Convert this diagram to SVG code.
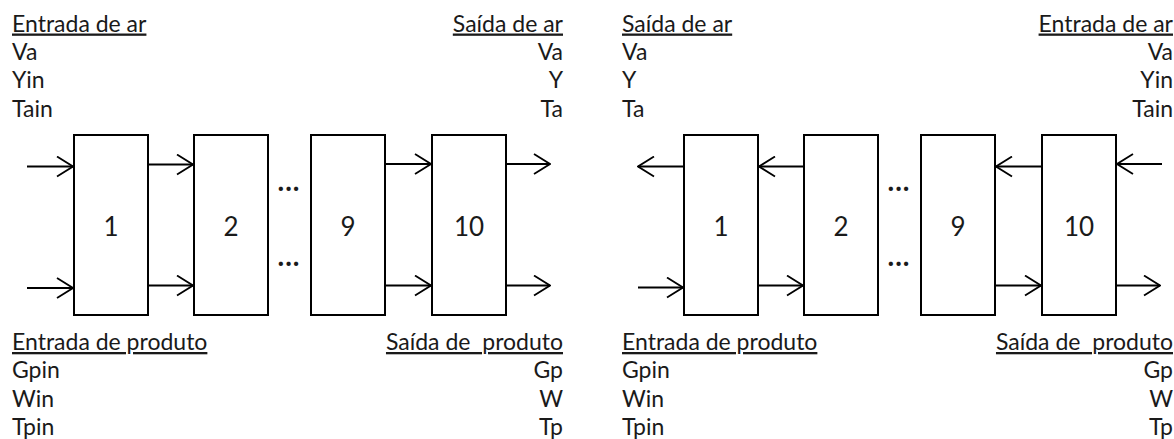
<svg xmlns="http://www.w3.org/2000/svg" width="1174" height="439" viewBox="0 0 1174 439">
<style>
text{font-family:Lato,"Open Sans","DejaVu Sans",sans-serif;font-size:23px;fill:#1a1a1a;white-space:pre}
.h{text-decoration:underline}
.r{text-anchor:end}
.n{text-anchor:middle;font-size:26px}
.d{text-anchor:middle;font-size:28px;letter-spacing:1px;font-weight:bold}
rect{fill:#fff;stroke:#000;stroke-width:2}
.c path{fill:none;stroke:#000;stroke-width:1.8;marker-end:url(#arr)}
</style>
<defs>
<marker id="arr" markerUnits="userSpaceOnUse" viewBox="0 0 18 22" refX="17" refY="11" markerWidth="18" markerHeight="22" orient="auto">
<path d="M1,1 L17,11 L1,21" fill="none" stroke="#000" stroke-width="1.8"/>
</marker>
</defs>
<rect width="1174" height="439" style="fill:#fff;stroke:none"/>

<g id="left-labels">
<text x="12" y="31.5" class="h">Entrada de ar</text>
<text x="12" y="59.5">Va</text>
<text x="12" y="88">Yin</text>
<text x="12" y="116.5">Tain</text>
<text x="563" y="31.5" class="h r">Saída de ar</text>
<text x="563" y="59.5" class="r">Va</text>
<text x="563" y="88" class="r">Y</text>
<text x="563" y="116.5" class="r">Ta</text>
<text x="12" y="350" class="h">Entrada de produto</text>
<text x="12" y="378">Gpin</text>
<text x="12" y="406.5">Win</text>
<text x="12" y="435">Tpin</text>
<text x="563" y="350" class="h r">Saída de  produto</text>
<text x="563" y="378" class="r">Gp</text>
<text x="563" y="406.5" class="r">W</text>
<text x="563" y="435" class="r">Tp</text>
<text x="289" y="191" class="d">...</text>
<text x="289" y="266" class="d">...</text>
</g>

<g id="right-labels">
<text x="622" y="31.5" class="h">Saída de ar</text>
<text x="622" y="59.5">Va</text>
<text x="622" y="88">Y</text>
<text x="622" y="116.5">Ta</text>
<text x="1173" y="31.5" class="h r">Entrada de ar</text>
<text x="1173" y="59.5" class="r">Va</text>
<text x="1173" y="88" class="r">Yin</text>
<text x="1173" y="116.5" class="r">Tain</text>
<text x="622" y="350" class="h">Entrada de produto</text>
<text x="622" y="378">Gpin</text>
<text x="622" y="406.5">Win</text>
<text x="622" y="435">Tpin</text>
<text x="1173" y="350" class="h r">Saída de  produto</text>
<text x="1173" y="378" class="r">Gp</text>
<text x="1173" y="406.5" class="r">W</text>
<text x="1173" y="435" class="r">Tp</text>
<text x="899" y="191" class="d">...</text>
<text x="899" y="266" class="d">...</text>
</g>

<g id="L1"><rect x="74" y="135" width="74" height="180"/><text x="111" y="236" class="n">1</text></g>
<g id="L2"><rect x="194" y="135" width="74" height="180"/><text x="231" y="236" class="n">2</text></g>
<g id="L9"><rect x="311" y="135" width="74" height="180"/><text x="348" y="236" class="n">9</text></g>
<g id="L10"><rect x="432" y="135" width="74" height="180"/><text x="469" y="236" class="n">10</text></g>

<g id="R1"><rect x="684" y="135" width="74" height="180"/><text x="721" y="236" class="n">1</text></g>
<g id="R2"><rect x="804" y="135" width="74" height="180"/><text x="841" y="236" class="n">2</text></g>
<g id="R9"><rect x="921" y="135" width="74" height="180"/><text x="958" y="236" class="n">9</text></g>
<g id="R10"><rect x="1042" y="135" width="74" height="180"/><text x="1079" y="236" class="n">10</text></g>

<g id="connectors" class="c">
<path d="M27,166.5 L73,166.5"/>
<path d="M27,288 L73,288"/>
<path d="M149,164.5 L193,164.5"/>
<path d="M149,285.5 L193,285.5"/>
<path d="M386,164 L431,164"/>
<path d="M386,285.5 L431,285.5"/>
<path d="M507,164 L550,164"/>
<path d="M507,285.5 L550,285.5"/>

<path d="M683,166.5 L638,166.5"/>
<path d="M638,287.5 L683,287.5"/>
<path d="M803,166.5 L759,166.5"/>
<path d="M759,285.5 L803,285.5"/>
<path d="M1041,166.5 L996,166.5"/>
<path d="M996,285.5 L1041,285.5"/>
<path d="M1162,164 L1117,164"/>
<path d="M1117,285.5 L1160,285.5"/>
</g>
</svg>
